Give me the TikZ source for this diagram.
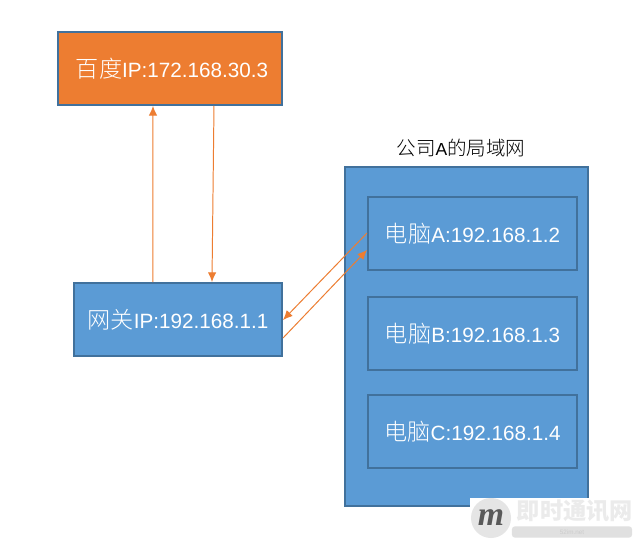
\documentclass[tikz,border=0pt]{standalone}
\usepackage{fontspec}
\setmainfont{Liberation Sans}
\newfontfamily\cjk[Scale=1.12]{Noto Sans CJK SC Light}
\newfontfamily\brandfont{Noto Sans CJK SC}
\newfontfamily\logofont{Liberation Serif}
\usetikzlibrary{arrows.meta}
\usetikzlibrary{calc}
\definecolor{boxblue}{HTML}{5B9BD5}
\definecolor{edgeblue}{HTML}{41719C}
\definecolor{boxorange}{HTML}{ED7D31}
\tikzset{
  hostbox/.style={draw=edgeblue,line width=1.4pt,fill=boxblue,text=white,font=\fontsize{14.7}{17}\selectfont,minimum height=1.825cm,inner sep=0pt},
  link/.style={draw=boxorange,line width=0.7pt,-{Latex[length=0.24cm,width=0.21cm]}}
}

\begin{document}
\begin{tikzpicture}[x=0.025cm,y=-0.025cm]
      \useasboundingbox (0,0) rectangle (639,545);
      \fill[white] (0,0) rectangle (639,545);

      \node[hostbox,fill=boxorange,minimum width=5.6cm] (baidu) at (170,68.5) {\hspace*{0.1cm}{\cjk 百度}IP:172.168.30.3};
      \node[hostbox,minimum width=5.2cm] (gateway) at (178,319.5) {{\cjk 网关}IP:192.168.1.1};

      \node[hostbox,minimum width=6.075cm,minimum height=8.475cm] (lan) at (466.5,336.5) {};
      \node[hostbox,minimum width=5.225cm] (pca) at (472.5,233.5) {{\cjk 电脑}A:192.168.1.2};
      \node[hostbox,minimum width=5.225cm] (pcb) at (472.5,333.5) {{\cjk 电脑}B:192.168.1.3};
      \node[hostbox,minimum width=5.225cm] (pcc) at (472.5,431.5) {{\cjk 电脑}C:192.168.1.4};
      \node[font=\fontsize{12.4}{15}\selectfont] (lantitle) at (461,148) {{\cjk 公司}A{\cjk 的局域网}};

      \draw[link] ($(gateway.north west)+(80,0)$) -- ($(baidu.south west)+(96,0)$);
      \draw[link] ($(baidu.south west)+(157,0)$) -- ($(gateway.north west)+(139,0)$);
      \draw[link] ($(pca.north west)+(0,37)$) -- ($(gateway.north east)+(0,38)$);
      \draw[link] ($(gateway.north east)+(0,56)$) -- ($(pca.north west)+(0,54)$);

      % watermark
      \fill[white] (470,498) rectangle (639,545);
      \node[circle,fill=black!10,minimum size=1cm,inner sep=0pt,font=\logofont\fontsize{24}{24}\selectfont\itshape\bfseries,text=black!65] (logo) at (491,518) {m};
      \node[text=black!8,font=\brandfont\bfseries\fontsize{16.5}{17}\selectfont,inner sep=0pt] (brand) at (575,510.5) {即时通讯网};
      \node[rounded corners=2pt,fill=black!12,minimum width=3cm,minimum height=0.28cm,inner sep=0pt,text=black!20,font=\fontsize{4.5}{5}\selectfont] (site) at (572,532) {52im.net};
\end{tikzpicture}
\end{document}
